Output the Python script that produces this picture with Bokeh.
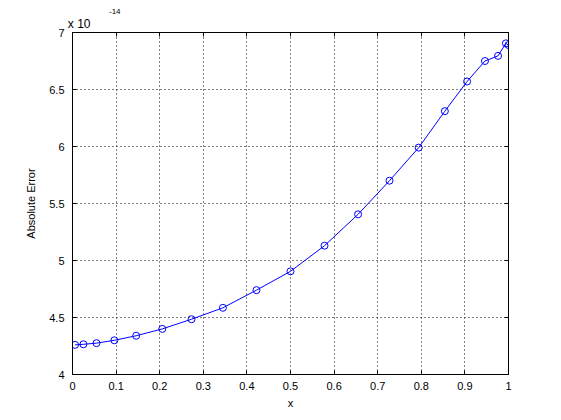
from bokeh.plotting import figure
from bokeh.models import (Range1d, FixedTicker, NumeralTickFormatter, LinearAxis, Title,
                          CustomJSTickFormatter)
from bokeh.embed import file_html
from bokeh.resources import INLINE

# data (y in units of 1e-14)
x_vals = [0.006, 0.025, 0.055, 0.096, 0.146, 0.206, 0.273, 0.345, 0.422, 0.5,
          0.578, 0.655, 0.727, 0.794, 0.854, 0.905, 0.946, 0.976, 0.994, 1.0]
err_vals = [4.26, 4.265, 4.275, 4.30, 4.34, 4.40, 4.485, 4.585, 4.74, 4.905,
            5.13, 5.405, 5.70, 5.99, 6.31, 6.57, 6.75, 6.795, 6.905, 6.89]
x_ticks = [0, 0.1, 0.2, 0.3, 0.4, 0.5, 0.6, 0.7, 0.8, 0.9, 1.0]
y_ticks = [4, 4.5, 5, 5.5, 6, 6.5, 7]
scale_text = "x 10"
exponent_text = "-14"
x_label = "x"
y_label = "Absolute Error"

FONT = "Liberation Sans"
BLUE = "#0000ff"
PAD = "\u00a0" * 4  # horizontal padding so the scale text starts at the frame's left edge

p = figure(width=553, height=412, output_backend="svg", toolbar_location=None,
           x_range=Range1d(0, 1), y_range=Range1d(4, 7),
           min_border_left=72, min_border_right=45, min_border_top=32, min_border_bottom=38,
           x_axis_location=None, y_axis_location=None)
p.background_fill_color = "white"
p.border_fill_color = "white"
p.outline_line_color = "black"
p.outline_line_width = 1

blank = CustomJSTickFormatter(code="return ''")
xb = LinearAxis(ticker=FixedTicker(ticks=x_ticks), formatter=NumeralTickFormatter(format="0.[0]"),
                axis_label=x_label)
yl = LinearAxis(ticker=FixedTicker(ticks=y_ticks), formatter=NumeralTickFormatter(format="0.[0]"),
                axis_label=y_label)
xt = LinearAxis(ticker=FixedTicker(ticks=x_ticks), formatter=blank, axis_label=PAD + scale_text)
yr = LinearAxis(ticker=FixedTicker(ticks=y_ticks), formatter=blank)

for ax in (xb, yl, xt, yr):
    ax.major_tick_in = 4
    ax.major_tick_out = 0
    ax.minor_tick_in = 0
    ax.minor_tick_out = 0
    ax.axis_line_color = "black"
    ax.major_tick_line_color = "black"
    ax.major_label_text_font = FONT
    ax.major_label_text_font_size = "11px"
    ax.major_label_text_color = "black"
    ax.axis_label_text_font = FONT
    ax.axis_label_text_font_size = "11px"
    ax.axis_label_text_font_style = "normal"
    ax.axis_label_text_color = "black"
xt.major_label_standoff = 0
yr.major_label_standoff = 0
xb.major_label_standoff = 7
yl.major_label_standoff = 8
xb.axis_label_standoff = 4
yl.axis_label_standoff = 9
xt.axis_label_standoff = 2
xt.axis_label_align = "start"
xt.axis_label_text_align = "left"
xt.axis_label_text_font_size = "12px"

p.add_layout(xb, "below")
p.add_layout(yl, "left")
p.add_layout(xt, "above")
p.add_layout(yr, "right")

p.add_layout(Title(text=exponent_text, align="left", offset=36.5, standoff=0,
                   text_font=FONT, text_font_size="8px", text_font_style="normal",
                   text_color="black"), "above")

p.xgrid.ticker = FixedTicker(ticks=x_ticks)
p.ygrid.ticker = FixedTicker(ticks=y_ticks)
for g in (p.xgrid, p.ygrid):
    g.grid_line_color = "black"
    g.grid_line_dash = "1 3"
    g.grid_line_width = 1

p.line(x_vals, err_vals, line_color=BLUE, line_width=1)
p.scatter(x_vals, err_vals, marker="circle", size=7, fill_color=None,
          line_color=BLUE, line_width=1)

open("out.html", "w").write(file_html(p, INLINE))
